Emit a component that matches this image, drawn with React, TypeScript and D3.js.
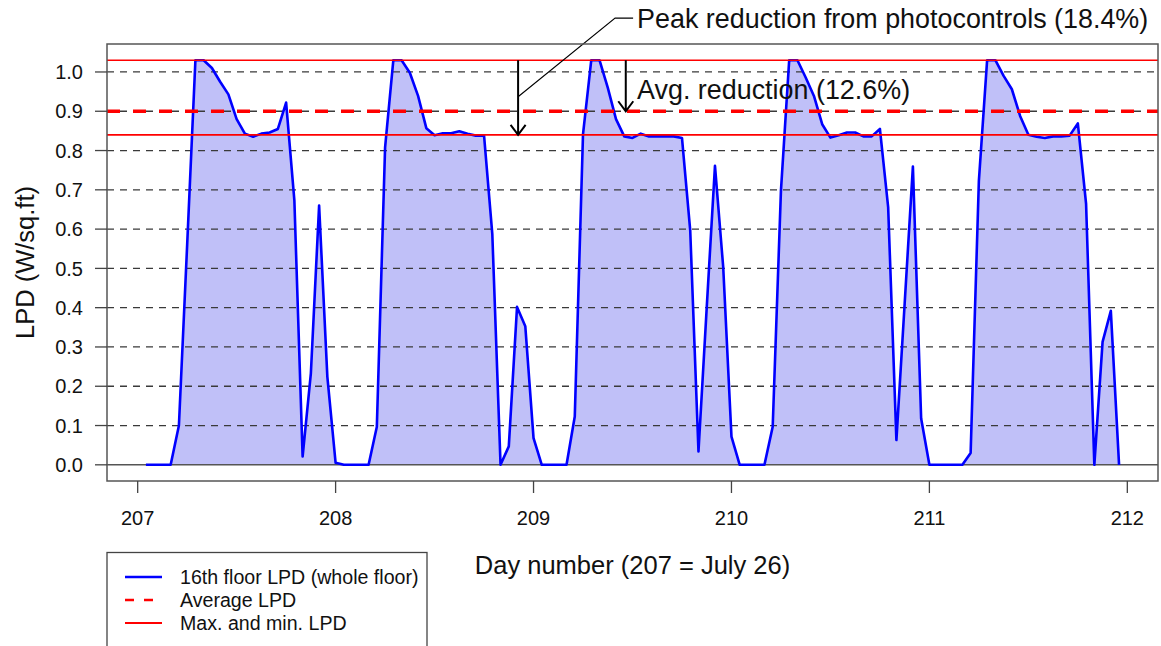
import React from "react";
import * as d3 from "d3";

// ---- data ----
const X_TICKS = [207, 208, 209, 210, 211, 212];
const Y_TICKS = [0, 0.1, 0.2, 0.3, 0.4, 0.5, 0.6, 0.7, 0.8, 0.9, 1.0];
const GRID_LEVELS = [0.1, 0.2, 0.3, 0.4, 0.5, 0.6, 0.7, 0.8, 0.9, 1.0];

// hourly LPD (W/sq.ft); day 207 starts at hour 1, other days at hour 0
const LPD_207 = [0, 0, 0, 0, 0.1, 0.56, 1.03, 1.03, 1.01, 0.975, 0.943, 0.88, 0.843, 0.835, 0.843, 0.846, 0.855, 0.922, 0.673, 0.021, 0.233, 0.66, 0.224];
const LPD_208 = [0.005, 0, 0, 0, 0, 0.097, 0.808, 1.03, 1.03, 0.998, 0.939, 0.857, 0.839, 0.844, 0.844, 0.849, 0.843, 0.838, 0.838, 0.588, 0, 0.047, 0.402, 0.353];
const LPD_209 = [0.068, 0, 0, 0, 0, 0.123, 0.842, 1.03, 1.03, 0.96, 0.88, 0.836, 0.832, 0.843, 0.836, 0.836, 0.836, 0.836, 0.832, 0.596, 0.034, 0.4, 0.761, 0.503];
const LPD_210 = [0.072, 0, 0, 0, 0, 0.097, 0.698, 1.03, 1.03, 0.986, 0.939, 0.867, 0.833, 0.839, 0.846, 0.846, 0.836, 0.836, 0.855, 0.656, 0.063, 0.41, 0.759, 0.118];
const LPD_211 = [0, 0, 0, 0, 0, 0.03, 0.723, 1.03, 1.03, 0.99, 0.956, 0.888, 0.84, 0.835, 0.832, 0.836, 0.836, 0.838, 0.869, 0.664, 0, 0.313, 0.392, 0];
const DAY_SERIES: [number, number, number[]][] = [
  [207, 1, LPD_207],
  [208, 0, LPD_208],
  [209, 0, LPD_209],
  [210, 0, LPD_210],
  [211, 0, LPD_211],
];

const MAX_LPD = 1.03;
const AVG_LPD = 0.9;
const MIN_LPD = 0.84;

const PEAK_LABEL = "Peak reduction from photocontrols (18.4%)";
const AVG_LABEL = "Avg. reduction (12.6%)";
const X_TITLE = "Day number (207 = July 26)";
const Y_TITLE = "LPD (W/sq.ft)";
const LEGEND_LABELS = ["16th floor LPD (whole floor)", "Average LPD", "Max. and min. LPD"];

// annotation anchors in data coordinates
const PEAK_ARROW_DAY = 208.922;
const AVG_ARROW_DAY = 209.466;
const LEADER_FROM = [208.922, 0.937];
const LEADER_BEND = [209.412, 1.137];
const LEADER_END = [209.503, 1.137];
const LABEL_DAY = 209.523;

const FONT = "'Liberation Sans', Arial, Helvetica, sans-serif";

type Pt = { t: number; v: number };

export default function App() {
  const points: Pt[] = [];
  DAY_SERIES.forEach(([day, h0, vals]) => {
    vals.forEach((v, i) => points.push({ t: day + (h0 + i) / 24, v }));
  });

  const [tMin, tMax] = d3.extent(points, (d) => d.t) as [number, number];
  const tPad = (tMax - tMin) * 0.04;
  const vPad = MAX_LPD * 0.04;

  const L = 107, R = 1158, T = 44, B = 481;
  const x = d3.scaleLinear().domain([tMin - tPad, tMax + tPad]).range([L, R]);
  const y = d3.scaleLinear().domain([0 - vPad, MAX_LPD + vPad]).range([B, T]);

  const line = d3.line<Pt>().x((d) => x(d.t)).y((d) => y(d.v));
  const area = d3.area<Pt>().x((d) => x(d.t)).y0(y(0)).y1((d) => y(d.v));

  const arrow = (day: number, v1: number, v2: number) => {
    const ax = x(day);
    const y1 = y(v1);
    const y2 = y(v2);
    return `M${ax},${y1}L${ax},${y2}M${ax - 7.5},${y2 - 10}L${ax},${y2}L${ax + 7.5},${y2 - 10}`;
  };

  return (
    <svg
      width={1161}
      height={646}
      style={{ position: "absolute", left: 0, top: 0, background: "#fff" }}
      fontFamily={FONT}
    >
      <rect x={0} y={0} width={1161} height={646} fill="#fff" />
      <clipPath id="plotclip">
        <rect x={L} y={T} width={R - L} height={B - T} />
      </clipPath>
      <g clipPath="url(#plotclip)">
        <path d={area(points) || ""} fill="#c0c0f8" stroke="none" />
        {GRID_LEVELS.map((g) => (
          <line key={g} x1={L} x2={R} y1={y(g)} y2={y(g)} stroke="#3a3a3a" strokeWidth={1.3} strokeDasharray="7,6" />
        ))}
        <line x1={L} x2={R} y1={y(0)} y2={y(0)} stroke="#555" strokeWidth={1.4} />
        <path d={line(points) || ""} fill="none" stroke="#0000ff" strokeWidth={2.6} strokeLinejoin="round" />
        <line x1={L} x2={R} y1={y(MAX_LPD)} y2={y(MAX_LPD)} stroke="#ff0000" strokeWidth={1.6} />
        <line x1={L} x2={R} y1={y(MIN_LPD)} y2={y(MIN_LPD)} stroke="#ff0000" strokeWidth={1.6} />
        <line x1={L} x2={R} y1={y(AVG_LPD)} y2={y(AVG_LPD)} stroke="#ff0000" strokeWidth={3.4} strokeDasharray="13,13" />
      </g>

      {/* arrows and annotations */}
      <path d={arrow(PEAK_ARROW_DAY, MAX_LPD, MIN_LPD)} fill="none" stroke="#000" strokeWidth={2} />
      <path d={arrow(AVG_ARROW_DAY, MAX_LPD, AVG_LPD)} fill="none" stroke="#000" strokeWidth={2} />
      <path
        d={`M${x(LEADER_FROM[0])},${y(LEADER_FROM[1])}L${x(LEADER_BEND[0])},${y(LEADER_BEND[1])}L${x(LEADER_END[0])},${y(LEADER_END[1])}`}
        fill="none"
        stroke="#000"
        strokeWidth={1.1}
      />
      <text x={x(LABEL_DAY)} y={y(LEADER_END[1])} dy="0.36em" fontSize={26.9} fill="#111">
        {PEAK_LABEL}
      </text>
      <text x={x(LABEL_DAY)} y={y(0.957)} dy="0.36em" fontSize={26.9} fill="#111">
        {AVG_LABEL}
      </text>

      {/* plot box */}
      <rect x={L} y={T} width={R - L} height={B - T} fill="none" stroke="#555" strokeWidth={1.5} />

      {/* y axis */}
      {Y_TICKS.map((t) => (
        <g key={t}>
          <line x1={L - 12} x2={L} y1={y(t)} y2={y(t)} stroke="#444" strokeWidth={1.3} />
          <text x={83} y={y(t)} dy="0.36em" textAnchor="end" fontSize={20} fill="#111">
            {t.toFixed(1)}
          </text>
        </g>
      ))}
      <text
        transform={`translate(25,${(T + B) / 2}) rotate(-90)`}
        textAnchor="middle"
        dy="0.36em"
        fontSize={25.5}
        fill="#111"
      >
        {Y_TITLE}
      </text>

      {/* x axis */}
      {X_TICKS.map((t) => (
        <g key={t}>
          <line x1={x(t)} x2={x(t)} y1={B} y2={B + 12} stroke="#444" strokeWidth={1.3} />
          <text x={x(t)} y={518} dy="0.36em" textAnchor="middle" fontSize={20} fill="#111">
            {t}
          </text>
        </g>
      ))}
      <text x={(L + R) / 2} y={565} dy="0.36em" textAnchor="middle" fontSize={25.5} fill="#111">
        {X_TITLE}
      </text>

      {/* legend */}
      <rect x={107} y={552.5} width={320} height={110} fill="#fff" stroke="#444" strokeWidth={1.3} />
      <line x1={125} x2={162} y1={577} y2={577} stroke="#0000ff" strokeWidth={2.6} />
      <line x1={125} x2={162} y1={600} y2={600} stroke="#ff0000" strokeWidth={2.6} strokeDasharray="9,10" />
      <line x1={125} x2={162} y1={623} y2={623} stroke="#ff0000" strokeWidth={1.8} />
      {LEGEND_LABELS.map((lab, i) => (
        <text key={lab} x={180} y={577 + i * 23} dy="0.36em" fontSize={19.6} fill="#111">
          {lab}
        </text>
      ))}
    </svg>
  );
}
